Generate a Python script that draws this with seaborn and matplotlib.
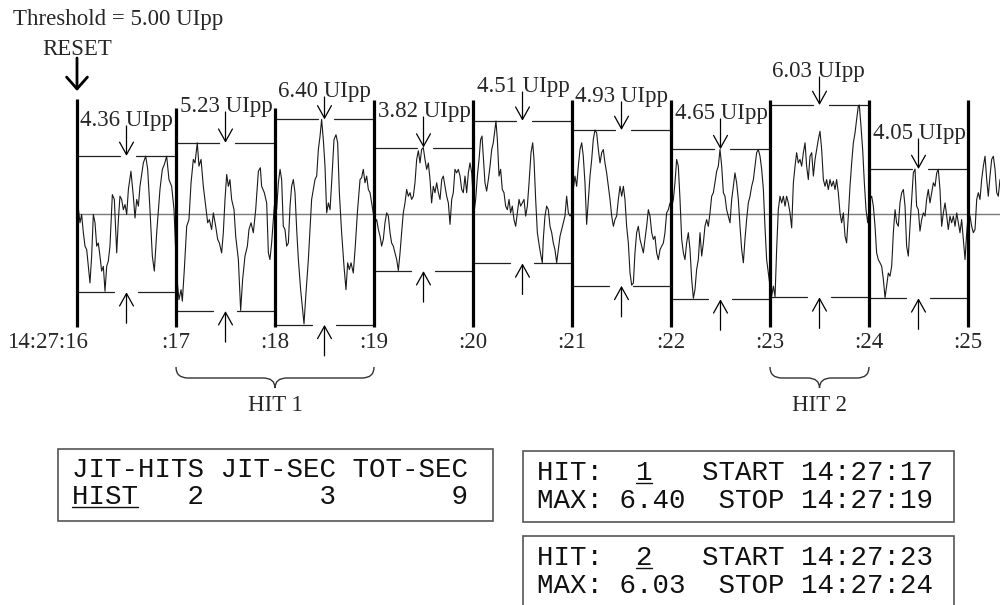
import matplotlib
matplotlib.use("Agg")
import matplotlib.pyplot as plt
from matplotlib.path import Path
from matplotlib.patches import PathPatch, Rectangle
import seaborn as sns

# ---------------- data ----------------
threshold_text = "Threshold = 5.00 UIpp"
reset_text = "RESET"
seconds = [16, 17, 18, 19, 20, 21, 22, 23, 24, 25]
time_labels = ["14:27:16", ":17", ":18", ":19", ":20", ":21", ":22", ":23", ":24", ":25"]
seg_pp = [4.36, 5.23, 6.40, 3.82, 4.51, 4.93, 4.65, 6.03, 4.05]
seg_max = [1.80, 2.21, 2.94, 2.06, 2.90, 2.61, 2.01, 3.39, 1.39]
seg_min = [-2.46, -3.05, -3.48, -1.80, -1.56, -2.26, -2.68, -2.62, -2.65]
hit_names = ["HIT 1", "HIT 2"]
hit_start = [17, 23]
hit_stop = [19, 24]
hit_max = [6.40, 6.03]
hit_start_lbl = ["14:27:17", "14:27:23"]
hit_stop_lbl = ["14:27:19", "14:27:24"]
jit_hits, jit_sec, tot_sec = 2, 3, 9

wave_t = [
    16.013, 16.030, 16.047, 16.064, 16.081, 16.098, 16.131, 16.148, 16.165, 16.182,
    16.199, 16.215, 16.232, 16.249, 16.266, 16.283, 16.300, 16.316, 16.333, 16.357,
    16.377, 16.401, 16.418, 16.434, 16.451, 16.468, 16.485, 16.502, 16.519, 16.545,
    16.569, 16.586, 16.603, 16.620, 16.636, 16.670, 16.694, 16.714, 16.737, 16.761,
    16.781, 16.805, 16.838, 16.862, 16.882, 16.906, 16.929, 16.956, 16.980,
    17.003, 17.017, 17.030, 17.051, 17.064, 17.084, 17.108, 17.131, 17.152, 17.175,
    17.192, 17.215, 17.232, 17.253, 17.276, 17.300, 17.320, 17.337, 17.360, 17.377,
    17.401, 17.421, 17.438, 17.461, 17.478, 17.495, 17.512, 17.529, 17.545, 17.562,
    17.586, 17.603, 17.630, 17.653, 17.673, 17.697, 17.721, 17.737, 17.758, 17.781,
    17.805, 17.832, 17.852, 17.865, 17.892, 17.916, 17.933, 17.949, 17.966, 17.993,
    18.000, 18.017, 18.034, 18.051, 18.067, 18.084, 18.101, 18.118, 18.135, 18.152,
    18.168, 18.185, 18.202, 18.219, 18.236, 18.259, 18.279, 18.293, 18.313, 18.337,
    18.370, 18.387, 18.404, 18.421, 18.438, 18.455, 18.471, 18.488, 18.505, 18.522,
    18.539, 18.556, 18.572, 18.596, 18.616, 18.633, 18.650, 18.673, 18.697, 18.717,
    18.734, 18.751, 18.768, 18.791, 18.811, 18.832, 18.859, 18.875, 18.892, 18.909,
    18.926, 18.943, 18.960, 18.987,
    19.010, 19.027, 19.044, 19.061, 19.077, 19.094, 19.111, 19.128, 19.145, 19.162,
    19.178, 19.195, 19.212, 19.229, 19.246, 19.263, 19.279, 19.296, 19.313, 19.330,
    19.347, 19.364, 19.380, 19.397, 19.414, 19.431, 19.448, 19.465, 19.481, 19.498,
    19.515, 19.532, 19.549, 19.566, 19.582, 19.599, 19.616, 19.633, 19.650, 19.667,
    19.684, 19.700, 19.717, 19.734, 19.751, 19.768, 19.785, 19.801, 19.818, 19.835,
    19.852, 19.869, 19.886, 19.902, 19.919, 19.936, 19.953, 19.970, 19.987,
    20.010, 20.027, 20.044, 20.061, 20.077, 20.091, 20.104, 20.121, 20.138, 20.155,
    20.172, 20.189, 20.205, 20.222, 20.232, 20.246, 20.263, 20.279, 20.296, 20.313,
    20.330, 20.347, 20.364, 20.380, 20.397, 20.414, 20.431, 20.448, 20.465, 20.481,
    20.498, 20.515, 20.532, 20.549, 20.566, 20.586, 20.603, 20.616, 20.633, 20.650,
    20.670, 20.687, 20.700, 20.710, 20.727, 20.744, 20.761, 20.778, 20.795, 20.811,
    20.828, 20.845, 20.862, 20.879, 20.896, 20.912, 20.929, 20.946, 20.963, 20.980,
    20.997,
    21.013, 21.030, 21.047, 21.064, 21.081, 21.098, 21.114, 21.131, 21.148, 21.165,
    21.182, 21.199, 21.215, 21.232, 21.249, 21.266, 21.283, 21.300, 21.316, 21.333,
    21.350, 21.367, 21.384, 21.401, 21.418, 21.434, 21.451, 21.468, 21.485, 21.502,
    21.519, 21.535, 21.552, 21.569, 21.586, 21.603, 21.620, 21.636, 21.653, 21.670,
    21.687, 21.704, 21.721, 21.737, 21.754, 21.771, 21.788, 21.805, 21.822, 21.838,
    21.855, 21.872, 21.889, 21.906, 21.923, 21.939, 21.956, 21.973, 21.990,
    22.007, 22.024, 22.040, 22.057, 22.074, 22.091, 22.108, 22.125, 22.141, 22.158,
    22.175, 22.192, 22.209, 22.226, 22.242, 22.259, 22.276, 22.293, 22.310, 22.327,
    22.343, 22.360, 22.377, 22.394, 22.411, 22.428, 22.444, 22.461, 22.478, 22.495,
    22.512, 22.529, 22.545, 22.562, 22.579, 22.596, 22.613, 22.630, 22.646, 22.663,
    22.680, 22.697, 22.714, 22.731, 22.747, 22.764, 22.781, 22.798, 22.815, 22.832,
    22.848, 22.865, 22.882, 22.899, 22.916, 22.933, 22.949, 22.966, 22.983, 23.000,
    23.017, 23.034, 23.051, 23.067, 23.084, 23.101, 23.118, 23.135, 23.152, 23.168,
    23.185, 23.202, 23.219, 23.236, 23.253, 23.269, 23.286, 23.303, 23.320, 23.337,
    23.354, 23.370, 23.387, 23.404, 23.421, 23.438, 23.455, 23.471, 23.488, 23.505,
    23.522, 23.539, 23.556, 23.572, 23.589, 23.606, 23.623, 23.640, 23.657, 23.673,
    23.690, 23.707, 23.724, 23.741, 23.758, 23.774, 23.791, 23.808, 23.825, 23.842,
    23.859, 23.875, 23.892, 23.902, 23.919, 23.936, 23.953, 23.970, 23.987,
    24.010, 24.027, 24.044, 24.061, 24.077, 24.094, 24.111, 24.128, 24.145, 24.162,
    24.178, 24.195, 24.212, 24.229, 24.246, 24.263, 24.279, 24.296, 24.313, 24.330,
    24.347, 24.364, 24.380, 24.397, 24.414, 24.431, 24.448, 24.465, 24.481, 24.498,
    24.515, 24.532, 24.549, 24.566, 24.582, 24.599, 24.616, 24.633, 24.650, 24.667,
    24.684, 24.700, 24.717, 24.734, 24.751, 24.768, 24.785, 24.801, 24.818, 24.835,
    24.852, 24.869, 24.886, 24.902, 24.919, 24.936, 24.953, 24.970, 24.987, 25.003,
    25.020, 25.037, 25.054, 25.071, 25.088, 25.104, 25.121, 25.138, 25.155, 25.172,
    25.189, 25.205, 25.222, 25.239, 25.256, 25.273, 25.290, 25.306, 25.323,
]
wave_v = [
    0.18, -0.29, -0.03, -0.60, -1.02, -1.13, -2.17, -1.33, -0.03, -0.29,
    -1.02, -0.92, -1.33, -1.80, -1.65, -2.43, -1.65, -1.49, -1.02, 0.59,
    0.44, -1.23, -0.19, 0.54, 0.44, 0.12, 0.28, -0.03, 0.75, 1.32,
    0.54, -0.14, 0.44, 0.23, 0.85, 1.58, 1.79, 1.38, 0.12, -1.33,
    -1.80, -0.60, 0.75, 1.38, 1.53, 1.79, 1.06, 0.85, 0.12,
    -1.65, -2.27, -2.69, -2.38, -2.74, -1.75, -0.40, -0.19, 0.96, 1.69,
    1.58, 2.21, 1.48, 1.69, 0.85, 0.23, -0.29, -0.19, -0.50, 0.02,
    -0.40, -0.81, -0.92, -1.23, -0.60, 0.44, 1.22, 0.85, 1.06, 0.44,
    0.12, -0.71, -1.44, -3.03, -2.06, -1.33, -1.02, -0.50, -0.29, -0.60,
    0.12, 1.32, 1.43, 0.85, 0.65, 0.33, -1.23, -1.44, -0.92, 0.23,
    0.33, 0.13, 0.96, 1.38, 1.06, -0.40, -0.50, -1.02, -0.92, 0.23,
    0.85, 1.06, 0.65, -0.50, -1.44, -2.38, -3.00, -3.45, -2.48, -1.44,
    0.44, 0.75, 1.06, 1.17, 2.00, 2.42, 2.94, 2.31, 1.48, 0.02,
    0.33, 0.12, 0.96, 2.31, 2.46, 2.21, 0.65, -0.60, -1.65, -2.38,
    -1.54, -1.75, -1.54, -1.86, -1.02, 0.02, 1.06, 1.12, 1.38, 0.96,
    1.17, 0.75, 0.65, 0.12,
    -0.29, -0.19, -0.50, -0.71, -1.02, -0.81, -0.29, 0.02, -0.08, -0.60,
    -0.92, -1.02, -1.23, -1.44, -1.78, -1.23, -0.60, 0.02, 0.33, 0.75,
    0.54, 0.65, 0.44, 0.54, 0.96, 1.69, 1.96, 1.58, 2.00, 2.06,
    1.69, 1.38, 1.58, 1.06, 0.33, 0.85, 0.65, 0.96, 0.65, 0.44,
    1.06, 1.17, 0.85, 0.54, 0.33, -0.34, 0.44, 0.65, 1.38, 1.27,
    1.38, 1.17, 0.75, 0.65, 1.17, 0.65, 1.27, 1.58, 1.27,
    0.02, 0.44, 1.17, 1.69, 2.31, 2.42, 1.79, 0.96, 0.70, 1.06,
    1.48, 2.00, 2.21, 2.63, 2.89, 2.31, 1.17, 1.38, 0.75, 0.65,
    0.23, 0.12, 0.44, 0.02, 0.23, -0.19, -0.40, 0.02, 0.44, 0.23,
    0.33, 0.44, -0.08, 0.23, 0.96, 1.90, 2.21, 1.69, 0.44, -0.60,
    -1.02, -1.33, -1.54, -0.81, -0.08, 0.23, 0.12, -0.40, -0.60, -0.92,
    -1.13, -1.54, -1.13, -0.71, -0.50, -0.29, -0.08, 0.54, 0.02, -0.08,
    0.02,
    0.75, 1.17, 0.85, 1.48, 2.00, 2.21, 1.79, 0.96, -0.34, 0.44,
    1.17, 1.69, 2.31, 2.61, 2.52, 2.00, 1.58, 1.90, 2.00, 1.58,
    1.27, 0.85, 0.44, -0.08, -0.40, -0.19, -0.08, 0.44, 0.85, 0.54,
    0.85, 0.44, -0.40, -0.92, -1.86, -2.24, -2.17, -1.23, -0.60, -0.40,
    -0.81, -1.02, -1.23, -0.81, -0.40, 0.12, -0.08, -0.60, -0.81, -0.71,
    -1.23, -1.44, -1.13, -1.02, -0.92, -0.60, 0.02, 0.12, 0.33,
    0.23, 0.44, 0.96, 1.69, 1.48, 0.44, -0.81, -1.23, -1.44, -0.92,
    -0.60, -1.13, -2.06, -2.65, -2.38, -1.75, -1.44, -0.60, -1.33, -0.92,
    -0.40, -0.19, -0.40, 0.02, 0.54, 0.65, 0.96, 1.32, 1.48, 2.00,
    1.48, 0.65, 0.54, 0.12, -0.08, -0.29, 0.44, 0.85, 1.27, 0.96,
    0.44, -0.40, -1.13, -1.54, -0.81, -0.19, 0.33, 0.54, 0.85, 1.06,
    1.48, 1.90, 2.00, 1.79, 1.38, 0.75, -0.40, -1.44, -1.86, -2.27,
    -2.58, -2.27, -2.60, -1.13, 0.12, 0.54, 0.33, 0.54, 0.23, 0.54,
    0.33, 0.02, -0.45, 0.96, 1.48, 1.90, 1.58, 1.69, 1.48, 1.90,
    2.21, 1.48, 1.06, 1.79, 1.90, 1.17, 1.69, 2.00, 2.31, 2.57,
    2.00, 1.06, 0.85, 1.06, 0.75, 1.06, 0.85, 1.01, 0.75, 1.06,
    0.65, 0.02, -0.29, 0.02, -0.71, -0.92, -0.08, 0.85, 1.58, 2.21,
    2.52, 2.94, 3.35, 3.39, 2.73, 2.00, 0.96, 0.12, -0.29,
    0.44, 0.54, 0.23, -0.40, -1.23, -1.44, -1.54, -1.65, -2.06, -2.63,
    -2.27, -1.86, -1.96, -1.65, -0.60, 0.12, -0.29, -0.40, 0.33, 0.65,
    0.75, 0.23, -1.02, -1.33, -0.40, 0.44, 1.27, 1.39, 0.23, 0.12,
    -0.55, -0.19, 0.02, -0.08, 0.44, 0.75, 0.33, 0.65, 0.96, 0.85,
    1.27, 1.38, 0.75, -0.40, 0.02, 0.33, -0.08, -0.50, -0.08, -0.29,
    -0.08, -0.40, 0.02, -0.29, -0.60, -0.19, -0.81, -1.44, -0.60, 0.02,
    -0.08, -0.40, -0.60, -0.50, 0.44, 0.65, 0.44, 1.06, 1.48, 1.79,
    1.06, 0.54, 1.17, 1.69, 1.79, 1.38, 0.65, 0.54, 1.06,
]

# ---------------- layout (pixel positions) ----------------
X0_PX, PX_PER_S = 77.0, 99.0
Y0_PX, PX_PER_UI = 213.5, 32.0
line_top_px = [99, 108, 108, 100, 100, 100, 100, 100, 100, 100]
line_bot_px = 327
label_x_px = [80, 180, 278, 378, 477, 575, 675, 772, 873]
label_base_px = [126, 112, 97, 117, 92, 102, 119, 77, 139]
SERIF = ["Liberation Serif", "DejaVu Serif"]
MONO = ["Liberation Mono", "DejaVu Sans Mono"]
FS = 16.5
MFS = 19.8
CHAR_PX = 16.5


def X(px):
    return seconds[0] + (px - X0_PX) / PX_PER_S


def Y(py):
    return (Y0_PX - py) / PX_PER_UI


def DX(px):
    return px / PX_PER_S


def DY(px):
    return px / PX_PER_UI


sns.set_style("white")
plt.rcParams["font.family"] = SERIF

fig = plt.figure(figsize=(10, 6.05), dpi=100)
fig.patch.set_facecolor("white")
ax = fig.add_axes([0, 0, 1, 1])

# baseline
ax.plot([seconds[0], X(1000)], [0, 0], color="#7a7a7a", lw=1.0, zorder=1)

# waveform
sns.lineplot(x=wave_t, y=wave_v, ax=ax, color="#1a1a1a", lw=0.8,
             sort=False, estimator=None, zorder=3)

# vertical second markers
for s, top in zip(seconds, line_top_px):
    ax.plot([s, s], [Y(line_bot_px), Y(top)], color="black", lw=2.3,
            solid_capstyle="butt", zorder=4)

arrow_small = dict(arrowstyle="->,head_length=0.9,head_width=0.5",
                   lw=0.9, color="black", shrinkA=0, shrinkB=0)

for i in range(len(seg_pp)):
    s, e = seconds[i], seconds[i + 1]
    c = s + 0.5
    mx, mn = seg_max[i], seg_min[i]
    ax.plot([s, c - DX(6)], [mx, mx], color="#222", lw=0.9, zorder=2)
    ax.plot([c + DX(10), e], [mx, mx], color="#222", lw=0.9, zorder=2)
    ax.plot([s, c - DX(12)], [mn, mn], color="#222", lw=0.9, zorder=2)
    ax.plot([c + DX(12), e], [mn, mn], color="#222", lw=0.9, zorder=2)
    ax.annotate("", xy=(c, mx), xytext=(c, Y(label_base_px[i])),
                arrowprops=arrow_small, zorder=5)
    ax.annotate("", xy=(c, mn), xytext=(c, mn - DY(31)),
                arrowprops=arrow_small, zorder=5)
    ax.text(X(label_x_px[i]), Y(label_base_px[i]), f"{seg_pp[i]:.2f} UIpp",
            fontsize=FS, ha="left", va="baseline", family=SERIF)

# time labels
for i, (s, lbl) in enumerate(zip(seconds, time_labels)):
    if i == 0:
        ax.text(s + DX(11), Y(348), lbl, fontsize=FS, ha="right", va="baseline")
    else:
        ax.text(s, Y(348), lbl, fontsize=FS, ha="center", va="baseline")

# header texts
ax.text(X(13), Y(25), threshold_text, fontsize=FS, ha="left", va="baseline")
ax.text(X(42), Y(55), reset_text, fontsize=FS, ha="left", va="baseline")
ax.annotate("", xy=(seconds[0], Y(91)), xytext=(seconds[0], Y(58)),
            arrowprops=dict(arrowstyle="->,head_length=0.85,head_width=0.75",
                            lw=2.0, color="black", shrinkA=0, shrinkB=0))

# braces with HIT labels
for name, a, b in zip(hit_names, hit_start, hit_stop):
    c = (a + b) / 2
    r = DX(12)
    y0, y1, y2 = Y(367), Y(378), Y(388)
    verts = [(a, y0), (a, y1), (a + r, y1), (c - r, y1), (c, y1), (c, y2),
             (c, y1), (c + r, y1), (b - r, y1), (b, y1), (b, y0)]
    codes = [Path.MOVETO, Path.CURVE3, Path.CURVE3, Path.LINETO,
             Path.CURVE3, Path.CURVE3, Path.CURVE3, Path.CURVE3,
             Path.LINETO, Path.CURVE3, Path.CURVE3]
    ax.add_patch(PathPatch(Path(verts, codes), facecolor="none",
                           edgecolor="#333", lw=1.0))
    ax.text(c, Y(411), name, fontsize=FS, ha="center", va="baseline")


def draw_box(left, right, top, bottom):
    ax.add_patch(Rectangle((X(left), Y(bottom)), X(right) - X(left),
                           Y(top) - Y(bottom), facecolor="none",
                           edgecolor="#555", lw=1.2, zorder=2))


def mono(x_px, base_px, txt, ul=None):
    ax.text(X(x_px), Y(base_px), txt, fontsize=MFS, family=MONO,
            ha="left", va="baseline", color="#111")
    if ul is not None:
        i0, i1 = ul
        ax.plot([X(x_px + i0 * CHAR_PX), X(x_px + (i1 + 1) * CHAR_PX)],
                [Y(base_px + 3), Y(base_px + 3)], color="#111", lw=1.0)


# history box
draw_box(58, 493, 449, 521)
mono(72, 477, "JIT-HITS JIT-SEC TOT-SEC")
mono(72, 504, f"HIST{jit_hits:>4}{jit_sec:>8}{tot_sec:>8}", ul=(0, 3))

# hit boxes
box_tops = [451, 536]
box_bots = [522, 612]
for k in range(len(hit_names)):
    top = box_tops[k]
    draw_box(523, 954, top, box_bots[k])
    b1 = top + 29
    mono(537, b1, f"HIT:  {k + 1}   START {hit_start_lbl[k]}", ul=(6, 6))
    mono(537, b1 + 28, f"MAX: {hit_max[k]:.2f}  STOP {hit_stop_lbl[k]}")

ax.set_xlim(X(0), X(1000))
ax.set_ylim(Y(605), Y(0))
ax.axis("off")

fig.savefig("out.png", dpi=100, facecolor="white")
